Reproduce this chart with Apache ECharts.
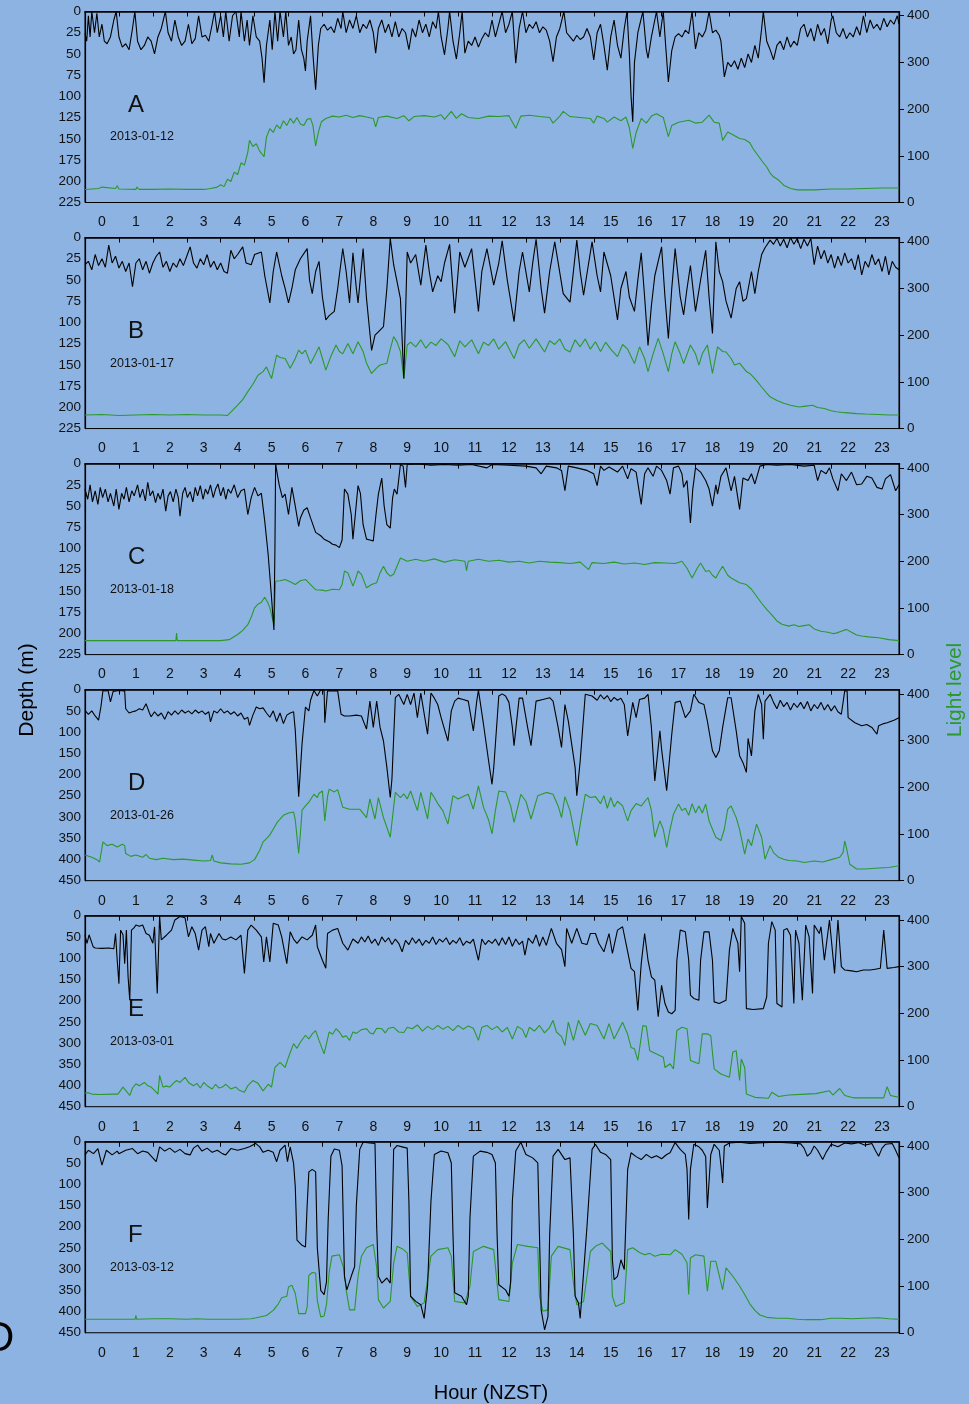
<!DOCTYPE html>
<html><head><meta charset="utf-8">
<script src="https://cdn.jsdelivr.net/npm/echarts@6/dist/echarts.min.js"></script>
<style>html,body{margin:0;padding:0;background:#8db3e2;}#c{width:969px;height:1404px;}</style>
</head><body><div id="c"></div>
<script>
// ---------- data: [hour, value] ----------
const hourLabels = ['0','1','2','3','4','5','6','7','8','9','10','11','12','13','14','15','16','17','18','19','20','21','22','23'];
const lightTicks = [0,100,200,300,400];
const panelLetters = ['A','B','C','D','E','F'];
const panelDates = ['2013-01-12','2013-01-17','2013-01-18','2013-01-26','2013-03-01','2013-03-12'];
const depthMax = [225,225,225,450,450,450];
const depthStep = [25,25,25,50,50,50];

const depthA = [[0,26],[0.05,35],[0.1,5],[0.15,30],[0.2,0],[0.28,25],[0.35,2],[0.42,30],[0.5,15],[0.57,35],[0.65,38],[0.75,30],[0.85,10],[0.92,0],[1.0,30],[1.1,42],[1.2,38],[1.3,45],[1.4,20],[1.47,0],[1.55,35],[1.65,45],[1.75,40],[1.85,30],[1.95,35],[2.05,50],[2.15,30],[2.25,20],[2.37,0],[2.45,25],[2.55,35],[2.65,10],[2.75,30],[2.85,40],[2.95,35],[3.05,15],[3.15,38],[3.25,32],[3.35,5],[3.45,30],[3.55,28],[3.65,35],[3.75,15],[3.82,0],[3.9,25],[4.0,5],[4.08,30],[4.15,0],[4.25,35],[4.35,5],[4.45,0],[4.55,30],[4.6,0],[4.7,35],[4.78,10],[4.85,40],[4.95,5],[5.05,30],[5.15,35],[5.22,55],[5.28,84],[5.35,40],[5.45,10],[5.52,45],[5.6,0],[5.68,35],[5.75,0],[5.85,30],[5.92,0],[6.0,40],[6.08,30],[6.15,50],[6.22,45],[6.3,10],[6.38,45],[6.45,55],[6.5,70],[6.55,35],[6.65,5],[6.72,50],[6.8,92],[6.88,40],[6.95,20],[7.05,15],[7.15,22],[7.25,18],[7.35,25],[7.45,8],[7.55,20],[7.6,0],[7.7,25],[7.8,10],[7.9,20],[8.0,5],[8.1,25],[8.2,15],[8.3,20],[8.4,10],[8.5,25],[8.57,49],[8.65,20],[8.75,10],[8.85,25],[8.95,15],[9.05,30],[9.15,12],[9.25,30],[9.35,20],[9.45,25],[9.55,45],[9.65,20],[9.75,30],[9.85,10],[9.95,25],[10.05,15],[10.15,30],[10.25,12],[10.35,20],[10.42,0],[10.5,30],[10.6,51],[10.7,20],[10.75,0],[10.85,35],[10.95,56],[11.05,25],[11.12,0],[11.2,49],[11.3,35],[11.4,40],[11.5,30],[11.6,42],[11.7,32],[11.8,25],[11.9,30],[12.0,10],[12.1,30],[12.2,15],[12.3,0],[12.4,25],[12.5,15],[12.6,0],[12.7,61],[12.8,20],[12.9,0],[13.0,25],[13.1,15],[13.2,20],[13.3,12],[13.4,25],[13.5,18],[13.6,22],[13.7,35],[13.8,59],[13.9,30],[14.0,20],[14.12,0],[14.2,25],[14.3,30],[14.4,35],[14.5,28],[14.6,33],[14.7,30],[14.8,20],[14.9,30],[15.0,57],[15.1,25],[15.2,15],[15.3,40],[15.4,69],[15.5,30],[15.6,10],[15.7,40],[15.8,55],[15.9,20],[15.98,0],[16.05,50],[16.1,100],[16.15,130],[16.2,60],[16.3,25],[16.45,0],[16.55,45],[16.6,55],[16.7,30],[16.85,0],[16.95,30],[17.05,0],[17.12,40],[17.2,83],[17.3,46],[17.4,30],[17.5,26],[17.6,30],[17.7,22],[17.8,26],[17.9,0],[18.0,44],[18.1,25],[18.2,30],[18.3,22],[18.4,0],[18.5,25],[18.6,22],[18.7,28],[18.75,35],[18.85,77],[18.95,60],[19.05,65],[19.15,58],[19.25,68],[19.35,55],[19.45,66],[19.55,50],[19.65,60],[19.75,40],[19.85,55],[19.95,20],[20.0,0],[20.1,35],[20.2,45],[20.3,57],[20.4,40],[20.5,35],[20.6,45],[20.7,30],[20.8,42],[20.9,35],[21.0,40],[21.1,20],[21.2,15],[21.3,30],[21.4,20],[21.5,35],[21.6,15],[21.7,28],[21.8,20],[21.9,38],[22.0,10],[22.05,5],[22.15,25],[22.25,30],[22.35,20],[22.45,32],[22.55,25],[22.65,30],[22.75,18],[22.85,28],[22.95,5],[23.05,25],[23.15,10],[23.25,20],[23.35,15],[23.45,22],[23.55,8],[23.65,18],[23.75,10],[23.85,15],[23.95,5],[24,15]];
const lightA = [[0,28],[0.4,30],[0.5,33],[0.9,30],[0.95,36],[1.0,29],[1.5,28],[1.53,33],[1.6,28],[2.0,28],[2.5,29],[3.0,28],[3.5,28],[3.7,30],[3.9,33],[4.0,38],[4.1,34],[4.2,50],[4.3,45],[4.4,65],[4.5,60],[4.6,85],[4.7,80],[4.8,108],[4.85,133],[4.95,120],[5.05,126],[5.15,110],[5.28,98],[5.35,140],[5.45,158],[5.55,150],[5.65,166],[5.75,158],[5.85,175],[5.95,165],[6.05,180],[6.15,170],[6.25,182],[6.35,168],[6.45,165],[6.55,178],[6.65,180],[6.72,165],[6.8,121],[6.88,150],[6.97,173],[7.1,180],[7.3,185],[7.5,183],[7.7,187],[7.9,182],[8.1,186],[8.3,183],[8.5,180],[8.57,162],[8.65,182],[8.9,185],[9.2,180],[9.4,186],[9.55,175],[9.7,184],[10.0,186],[10.3,183],[10.5,188],[10.6,178],[10.8,195],[10.95,180],[11.1,190],[11.3,182],[11.6,180],[11.9,185],[12.2,184],[12.5,186],[12.7,159],[12.85,185],[13.1,187],[13.4,184],[13.7,182],[13.8,170],[14.0,185],[14.1,195],[14.3,184],[14.6,182],[14.9,180],[15.0,170],[15.1,185],[15.3,180],[15.4,172],[15.6,183],[15.8,175],[15.95,183],[16.05,160],[16.15,116],[16.25,150],[16.4,180],[16.55,170],[16.7,185],[16.85,190],[17.05,182],[17.2,141],[17.3,165],[17.5,172],[17.8,176],[18.0,170],[18.2,172],[18.4,187],[18.55,172],[18.7,170],[18.8,133],[18.95,151],[19.1,145],[19.3,137],[19.45,135],[19.6,128],[19.7,115],[19.8,105],[19.95,90],[20.1,76],[20.2,63],[20.3,55],[20.45,48],[20.6,37],[20.8,30],[21.0,27],[21.5,27],[22.0,29],[22.5,29],[23.0,30],[23.5,31],[24.0,31]];

const depthB = [[0,32],[0.1,28],[0.2,38],[0.3,20],[0.4,33],[0.5,25],[0.6,35],[0.7,9],[0.8,30],[0.9,22],[1.0,36],[1.1,28],[1.2,40],[1.3,30],[1.4,58],[1.5,30],[1.6,25],[1.7,38],[1.8,28],[1.9,42],[2.0,30],[2.1,22],[2.2,17],[2.3,35],[2.4,28],[2.5,40],[2.6,30],[2.7,35],[2.8,25],[2.9,33],[3.0,22],[3.1,11],[3.2,30],[3.3,36],[3.4,25],[3.5,32],[3.6,20],[3.7,35],[3.8,28],[3.9,38],[4.0,30],[4.1,40],[4.2,42],[4.3,15],[4.4,25],[4.5,20],[4.65,11],[4.75,30],[4.9,32],[5.0,20],[5.2,17],[5.3,45],[5.45,77],[5.55,40],[5.65,17],[5.8,45],[5.9,60],[6.0,77],[6.1,60],[6.2,38],[6.35,25],[6.55,13],[6.62,50],[6.7,66],[6.8,40],[6.9,28],[7.0,70],[7.1,97],[7.2,92],[7.35,87],[7.45,60],[7.6,13],[7.7,40],[7.8,77],[7.9,18],[8.0,60],[8.05,77],[8.2,13],[8.3,72],[8.45,133],[8.55,115],[8.65,111],[8.8,105],[8.9,60],[9.0,1],[9.1,32],[9.3,72],[9.4,166],[9.5,17],[9.6,30],[9.75,20],[9.9,56],[10.05,9],[10.15,40],[10.25,64],[10.4,45],[10.5,52],[10.6,30],[10.75,8],[10.9,89],[11.05,17],[11.2,35],[11.4,13],[11.6,87],[11.7,40],[11.85,13],[12.05,56],[12.2,30],[12.3,4],[12.45,50],[12.65,99],[12.8,40],[12.9,17],[13.1,64],[13.2,30],[13.3,2],[13.45,60],[13.55,89],[13.7,40],[13.85,5],[14.1,66],[14.3,76],[14.4,40],[14.5,3],[14.6,40],[14.7,68],[14.85,30],[14.95,5],[15.1,45],[15.2,64],[15.3,17],[15.5,45],[15.7,97],[15.8,60],[15.95,40],[16.05,70],[16.2,87],[16.3,50],[16.4,18],[16.5,70],[16.6,127],[16.7,80],[16.8,45],[17.0,11],[17.1,70],[17.2,119],[17.3,60],[17.4,13],[17.55,70],[17.65,91],[17.75,60],[17.85,33],[18.0,87],[18.15,50],[18.3,15],[18.4,70],[18.5,113],[18.6,5],[18.7,40],[18.8,52],[18.9,75],[19.05,95],[19.2,60],[19.3,52],[19.4,75],[19.5,72],[19.65,40],[19.75,66],[19.85,40],[19.95,20],[20.05,12],[20.2,3],[20.3,8],[20.4,1],[20.5,10],[20.6,2],[20.7,12],[20.8,0],[20.9,8],[21.0,1],[21.1,13],[21.2,2],[21.3,10],[21.4,1],[21.5,32],[21.6,10],[21.7,25],[21.8,15],[21.9,30],[22.0,20],[22.1,36],[22.2,22],[22.3,33],[22.4,18],[22.5,30],[22.6,25],[22.7,38],[22.8,20],[22.9,44],[23.0,28],[23.1,35],[23.2,20],[23.3,32],[23.4,25],[23.5,40],[23.6,22],[23.7,44],[23.8,28],[23.9,35],[24,38]];
const lightB = [[0,29],[0.5,30],[1,28],[1.5,29],[2,30],[2.5,29],[3,30],[3.5,29],[4,29],[4.2,28],[4.3,35],[4.5,50],[4.65,62],[4.8,79],[4.95,95],[5.1,114],[5.25,122],[5.35,132],[5.5,107],[5.65,157],[5.75,152],[5.9,150],[6.05,129],[6.2,150],[6.3,168],[6.4,160],[6.5,168],[6.65,139],[6.8,160],[6.9,175],[7.0,150],[7.1,125],[7.25,155],[7.4,179],[7.5,165],[7.6,160],[7.75,182],[7.9,160],[8.05,186],[8.2,165],[8.3,140],[8.45,118],[8.6,130],[8.7,136],[8.9,140],[9.0,170],[9.1,197],[9.2,185],[9.3,165],[9.4,107],[9.5,179],[9.6,185],[9.75,175],[9.9,190],[10.05,172],[10.2,185],[10.35,178],[10.5,192],[10.7,180],[10.9,154],[11.05,188],[11.2,175],[11.4,190],[11.6,160],[11.75,185],[11.9,178],[12.05,192],[12.2,170],[12.4,186],[12.65,150],[12.8,180],[12.95,190],[13.1,172],[13.3,192],[13.55,164],[13.7,188],[13.85,180],[14.0,192],[14.15,170],[14.3,164],[14.45,190],[14.6,175],[14.75,192],[14.9,170],[15.05,186],[15.2,165],[15.35,185],[15.5,170],[15.7,154],[15.85,180],[16.0,170],[16.2,139],[16.35,175],[16.5,150],[16.6,122],[16.75,160],[16.9,193],[17.05,160],[17.2,122],[17.3,160],[17.4,186],[17.55,160],[17.65,139],[17.85,179],[18.0,160],[18.1,136],[18.2,160],[18.35,179],[18.5,118],[18.65,175],[18.8,165],[18.9,164],[19.05,150],[19.15,136],[19.3,140],[19.5,122],[19.6,118],[19.75,107],[19.95,89],[20.1,76],[20.2,68],[20.4,60],[20.6,54],[20.8,50],[21.05,46],[21.25,48],[21.45,50],[21.6,45],[21.8,43],[22.0,38],[22.15,36],[22.4,34],[22.75,32],[23.0,31],[23.4,30],[23.7,29],[24,29]];

const depthC = [[0,30],[0.08,42],[0.15,25],[0.22,45],[0.3,32],[0.38,48],[0.45,28],[0.52,40],[0.6,30],[0.68,45],[0.75,35],[0.85,50],[0.92,30],[1.0,54],[1.08,35],[1.15,42],[1.22,28],[1.3,45],[1.38,32],[1.45,38],[1.55,25],[1.62,40],[1.7,30],[1.78,44],[1.85,22],[1.92,38],[2.0,32],[2.08,46],[2.15,35],[2.22,42],[2.3,30],[2.38,56],[2.45,38],[2.52,33],[2.6,45],[2.68,30],[2.75,40],[2.8,62],[2.88,35],[2.95,28],[3.02,40],[3.1,33],[3.18,45],[3.25,28],[3.32,38],[3.4,26],[3.48,42],[3.55,30],[3.62,36],[3.7,25],[3.78,40],[3.85,30],[3.92,24],[4.0,38],[4.08,28],[4.15,42],[4.22,30],[4.3,35],[4.4,25],[4.5,40],[4.6,32],[4.7,30],[4.8,60],[4.9,40],[5.0,28],[5.1,38],[5.2,35],[5.3,68],[5.4,107],[5.5,158],[5.57,196],[5.6,100],[5.62,0],[5.68,15],[5.73,26],[5.82,40],[5.9,36],[6.0,60],[6.1,28],[6.2,50],[6.3,74],[6.35,64],[6.45,55],[6.55,52],[6.65,64],[6.8,81],[6.95,85],[7.05,89],[7.2,92],[7.3,95],[7.4,96],[7.5,99],[7.58,90],[7.65,30],[7.75,36],[7.85,60],[7.9,89],[7.97,60],[8.05,26],[8.12,35],[8.2,72],[8.3,89],[8.4,90],[8.5,91],[8.58,60],[8.65,36],[8.75,17],[8.82,50],[8.9,72],[9.0,76],[9.07,40],[9.12,30],[9.2,36],[9.3,1],[9.38,3],[9.45,28],[9.5,1],[9.8,0],[10.2,2],[10.6,1],[11.0,2],[11.4,1],[11.85,5],[12.0,1],[12.5,2],[13.0,3],[13.3,5],[13.45,12],[13.6,3],[13.9,5],[14.05,8],[14.15,32],[14.25,3],[14.5,5],[14.8,8],[15.0,12],[15.1,26],[15.2,3],[15.3,8],[15.45,4],[15.7,10],[15.85,3],[16.0,18],[16.1,6],[16.25,10],[16.4,48],[16.5,12],[16.6,5],[16.75,15],[16.85,3],[17.0,8],[17.15,20],[17.25,36],[17.35,5],[17.5,3],[17.6,12],[17.65,28],[17.75,20],[17.85,70],[17.92,30],[18.0,5],[18.15,10],[18.3,20],[18.4,30],[18.5,50],[18.6,25],[18.65,36],[18.75,15],[18.9,5],[19.05,32],[19.15,15],[19.3,54],[19.4,17],[19.55,20],[19.65,12],[19.75,24],[19.9,3],[20.1,1],[20.4,2],[20.8,1],[21.2,3],[21.5,2],[21.6,20],[21.7,8],[21.85,12],[21.95,5],[22.05,18],[22.2,32],[22.3,12],[22.45,20],[22.6,10],[22.75,25],[22.9,24],[23.05,15],[23.2,17],[23.35,28],[23.5,30],[23.6,18],[23.75,13],[23.9,32],[24,25]];
const lightC = [[0,30],[0.5,30],[1,30],[1.5,30],[2,30],[2.68,30],[2.7,46],[2.72,30],[3,30],[3.5,30],[4.0,30],[4.25,32],[4.5,43],[4.65,52],[4.8,64],[4.9,80],[5.0,100],[5.1,108],[5.2,112],[5.3,123],[5.4,110],[5.45,100],[5.55,70],[5.57,64],[5.62,157],[5.75,158],[5.9,161],[6.05,156],[6.2,150],[6.35,158],[6.5,161],[6.65,150],[6.8,139],[7.0,138],[7.1,136],[7.3,140],[7.5,139],[7.58,150],[7.65,179],[7.75,175],[7.9,147],[7.97,160],[8.05,179],[8.15,172],[8.3,143],[8.45,150],[8.6,154],[8.7,175],[8.8,189],[8.9,175],[9.0,168],[9.1,172],[9.3,207],[9.5,200],[9.75,204],[10.0,200],[10.3,205],[10.6,198],[10.9,203],[11.2,200],[11.25,180],[11.3,200],[11.6,204],[11.9,200],[12.2,202],[12.5,198],[12.8,200],[13.1,196],[13.4,200],[13.7,198],[14.0,197],[14.3,195],[14.6,198],[14.85,182],[14.95,197],[15.3,195],[15.6,198],[15.9,194],[16.2,196],[16.5,193],[16.8,197],[17.1,196],[17.4,195],[17.6,200],[17.75,185],[17.9,164],[18.05,185],[18.15,196],[18.3,178],[18.4,180],[18.5,170],[18.6,164],[18.7,178],[18.8,189],[18.95,170],[19.05,164],[19.3,154],[19.5,150],[19.65,140],[19.8,125],[19.95,110],[20.1,97],[20.25,85],[20.4,72],[20.55,65],[20.75,61],[20.9,64],[21.05,60],[21.2,62],[21.35,64],[21.5,55],[21.7,50],[21.9,48],[22.05,45],[22.15,46],[22.3,50],[22.45,54],[22.6,48],[22.75,42],[22.9,40],[23.1,38],[23.4,36],[23.7,32],[24,30]];

const depthD = [[0,49],[0.1,58],[0.2,50],[0.3,62],[0.4,72],[0.47,40],[0.53,2],[0.6,3],[0.68,2],[0.75,29],[0.83,4],[1.0,2],[1.17,3],[1.2,45],[1.3,55],[1.4,52],[1.5,50],[1.6,45],[1.7,48],[1.8,33],[1.9,55],[1.95,64],[2.05,52],[2.15,62],[2.25,55],[2.35,70],[2.45,52],[2.55,60],[2.65,50],[2.75,58],[2.85,48],[2.95,55],[3.05,50],[3.15,57],[3.25,48],[3.35,55],[3.45,50],[3.55,58],[3.65,52],[3.7,76],[3.8,50],[3.9,55],[4.0,45],[4.1,55],[4.2,50],[4.3,58],[4.4,52],[4.5,62],[4.6,55],[4.7,70],[4.8,65],[4.85,84],[4.95,60],[5.05,41],[5.15,45],[5.25,43],[5.35,55],[5.45,65],[5.55,50],[5.65,75],[5.75,55],[5.85,80],[5.95,60],[6.05,55],[6.15,52],[6.2,96],[6.3,252],[6.4,127],[6.5,41],[6.6,50],[6.65,25],[6.75,2],[6.85,15],[6.95,0],[7.05,3],[7.07,78],[7.15,3],[7.45,3],[7.55,58],[7.65,62],[7.8,62],[8.0,60],[8.15,62],[8.3,93],[8.4,27],[8.5,89],[8.6,27],[8.7,89],[8.8,121],[8.9,183],[9.0,254],[9.05,210],[9.15,19],[9.25,11],[9.4,35],[9.5,11],[9.6,35],[9.7,8],[9.8,66],[9.9,8],[10.1,105],[10.2,8],[10.3,20],[10.4,35],[10.5,66],[10.7,121],[10.8,50],[10.9,27],[11.0,20],[11.15,23],[11.3,27],[11.45,97],[11.55,27],[11.6,1],[11.75,82],[11.9,168],[12.0,223],[12.05,185],[12.2,15],[12.3,10],[12.4,15],[12.5,30],[12.6,89],[12.65,132],[12.8,20],[12.9,20],[13.05,89],[13.15,132],[13.3,27],[13.5,23],[13.7,19],[13.8,27],[13.95,89],[14.05,136],[14.15,35],[14.25,74],[14.45,183],[14.5,250],[14.6,168],[14.75,11],[14.95,15],[15.1,25],[15.2,12],[15.3,22],[15.4,14],[15.5,28],[15.6,18],[15.7,25],[15.8,20],[15.9,35],[16.0,109],[16.15,30],[16.25,66],[16.35,23],[16.5,20],[16.6,11],[16.7,89],[16.8,215],[16.95,97],[17.0,140],[17.15,238],[17.3,105],[17.4,30],[17.55,27],[17.7,66],[17.85,50],[17.95,11],[18.1,30],[18.25,35],[18.35,74],[18.5,144],[18.6,160],[18.7,144],[18.8,89],[18.95,19],[19.05,19],[19.2,97],[19.3,156],[19.4,172],[19.5,195],[19.55,115],[19.65,156],[19.75,50],[19.85,11],[19.95,35],[20.0,117],[20.05,27],[20.2,11],[20.3,30],[20.4,45],[20.5,25],[20.6,40],[20.7,30],[20.8,48],[20.9,32],[21.0,42],[21.1,30],[21.2,45],[21.3,28],[21.4,50],[21.5,35],[21.6,45],[21.7,30],[21.8,48],[21.9,35],[22.0,50],[22.1,38],[22.2,52],[22.3,58],[22.4,3],[22.47,3],[22.5,66],[22.7,78],[22.9,85],[23.05,82],[23.2,89],[23.35,105],[23.4,85],[23.55,80],[23.65,78],[23.85,72],[24,66]];
const lightD = [[0,55],[0.2,50],[0.35,45],[0.43,40],[0.5,70],[0.53,83],[0.65,75],[0.8,78],[0.95,72],[1.1,78],[1.17,75],[1.2,58],[1.35,52],[1.5,55],[1.7,50],[1.8,56],[1.9,48],[2.1,45],[2.3,48],[2.6,45],[2.9,46],[3.2,44],[3.5,42],[3.7,43],[3.75,55],[3.8,42],[4.0,38],[4.3,36],[4.6,35],[4.85,38],[5.0,45],[5.15,65],[5.25,83],[5.35,90],[5.45,98],[5.55,110],[5.65,123],[5.75,132],[5.85,140],[6.0,145],[6.15,147],[6.2,130],[6.3,58],[6.35,100],[6.4,151],[6.5,160],[6.6,168],[6.65,172],[6.75,185],[6.85,178],[6.9,187],[7.0,192],[7.07,128],[7.15,180],[7.2,196],[7.35,190],[7.45,195],[7.6,157],[7.8,153],[8.1,153],[8.3,135],[8.4,175],[8.55,132],[8.65,178],[8.8,135],[9.0,93],[9.15,189],[9.3,178],[9.4,186],[9.5,175],[9.6,192],[9.8,150],[9.9,189],[10.1,132],[10.2,189],[10.3,178],[10.4,165],[10.55,150],[10.7,121],[10.85,182],[11.0,175],[11.15,180],[11.3,185],[11.45,153],[11.6,203],[11.75,157],[11.9,130],[12.0,100],[12.1,150],[12.2,192],[12.4,190],[12.55,160],[12.65,125],[12.85,185],[13.0,170],[13.15,132],[13.35,182],[13.6,189],[13.8,185],[13.95,160],[14.05,135],[14.15,180],[14.3,150],[14.5,75],[14.6,120],[14.75,185],[14.9,178],[15.05,180],[15.2,165],[15.3,182],[15.4,155],[15.5,178],[15.6,158],[15.7,170],[15.85,160],[16.0,128],[16.1,150],[16.25,165],[16.4,160],[16.6,178],[16.7,150],[16.8,93],[16.95,128],[17.05,110],[17.15,71],[17.25,110],[17.35,142],[17.5,164],[17.6,150],[17.7,155],[17.8,140],[17.9,165],[18.0,145],[18.1,160],[18.2,145],[18.3,164],[18.4,128],[18.5,110],[18.6,93],[18.75,86],[18.85,110],[18.95,153],[19.05,160],[19.2,135],[19.3,110],[19.45,57],[19.55,89],[19.65,75],[19.8,121],[19.95,93],[20.05,46],[20.2,75],[20.3,60],[20.45,50],[20.6,46],[20.75,43],[21.0,42],[21.2,39],[21.5,42],[21.75,40],[22.0,45],[22.25,50],[22.35,60],[22.4,85],[22.45,70],[22.55,35],[22.75,25],[23.0,25],[23.4,27],[23.7,28],[24,32]];

const depthE = [[0,46],[0.06,65],[0.12,45],[0.24,73],[0.3,76],[0.5,77],[0.7,76],[0.85,78],[0.9,42],[0.95,105],[1.0,160],[1.05,34],[1.12,45],[1.17,113],[1.22,34],[1.27,144],[1.32,199],[1.37,34],[1.45,28],[1.5,22],[1.6,25],[1.7,22],[1.8,42],[1.9,46],[2.0,65],[2.05,26],[2.13,183],[2.2,1],[2.25,57],[2.4,46],[2.55,34],[2.65,10],[2.8,2],[2.95,5],[3.05,50],[3.15,26],[3.25,42],[3.35,81],[3.45,34],[3.55,26],[3.65,73],[3.7,42],[3.8,65],[3.95,42],[4.05,55],[4.15,57],[4.3,50],[4.45,57],[4.6,46],[4.7,136],[4.8,34],[4.9,22],[5.05,34],[5.2,50],[5.27,109],[5.35,50],[5.45,109],[5.55,18],[5.7,22],[5.8,50],[5.95,113],[6.05,38],[6.15,55],[6.25,65],[6.4,50],[6.55,57],[6.7,46],[6.8,22],[6.85,73],[7.0,105],[7.1,124],[7.15,42],[7.3,34],[7.45,30],[7.6,65],[7.75,81],[7.9,55],[8.05,65],[8.15,50],[8.25,62],[8.35,48],[8.45,65],[8.55,55],[8.65,70],[8.75,50],[8.85,62],[8.95,52],[9.05,68],[9.15,55],[9.25,65],[9.35,85],[9.45,58],[9.55,68],[9.65,52],[9.75,65],[9.85,55],[9.95,70],[10.05,58],[10.15,65],[10.25,50],[10.35,68],[10.45,55],[10.55,62],[10.65,52],[10.75,68],[10.85,58],[10.95,65],[11.05,52],[11.15,70],[11.25,60],[11.35,65],[11.45,55],[11.6,105],[11.7,55],[11.8,68],[11.9,58],[12.0,65],[12.1,55],[12.2,70],[12.3,52],[12.4,68],[12.5,50],[12.6,72],[12.7,55],[12.8,68],[12.9,60],[12.97,93],[13.07,53],[13.2,65],[13.3,45],[13.4,72],[13.5,50],[13.6,70],[13.75,30],[13.9,65],[14.05,80],[14.15,120],[14.2,30],[14.35,65],[14.5,30],[14.65,65],[14.8,68],[14.9,42],[15.05,42],[15.15,65],[15.3,85],[15.45,42],[15.55,89],[15.7,34],[15.85,26],[15.95,65],[16.1,124],[16.2,132],[16.3,223],[16.4,113],[16.5,42],[16.6,105],[16.7,144],[16.8,152],[16.9,238],[17.0,164],[17.1,207],[17.2,227],[17.3,231],[17.4,223],[17.45,105],[17.55,34],[17.7,38],[17.8,105],[17.85,187],[17.95,195],[18.1,199],[18.15,105],[18.25,38],[18.4,38],[18.5,105],[18.55,203],[18.7,207],[18.9,199],[19.0,81],[19.1,30],[19.25,65],[19.3,132],[19.35,2],[19.45,18],[19.5,219],[19.7,221],[20.0,219],[20.1,191],[20.15,65],[20.25,14],[20.35,34],[20.4,207],[20.55,215],[20.6,34],[20.7,30],[20.8,46],[20.9,207],[20.95,34],[21.05,65],[21.15,199],[21.25,22],[21.35,50],[21.45,183],[21.5,22],[21.65,42],[21.7,26],[21.8,105],[21.95,10],[22.1,136],[22.2,10],[22.3,120],[22.4,128],[22.6,130],[22.75,132],[22.95,128],[23.15,128],[23.3,126],[23.45,124],[23.55,34],[23.65,124],[23.85,122],[24,120]];
const lightE = [[0,29],[0.1,30],[0.2,27],[0.4,26],[0.83,27],[0.97,27],[1.05,35],[1.12,42],[1.2,35],[1.32,24],[1.4,40],[1.5,49],[1.6,45],[1.75,52],[1.85,45],[1.95,42],[2.05,35],[2.15,27],[2.2,67],[2.3,42],[2.4,44],[2.5,42],[2.6,50],[2.7,56],[2.8,52],[2.95,63],[3.05,52],[3.2,45],[3.3,50],[3.4,40],[3.5,52],[3.6,45],[3.75,38],[3.85,48],[3.95,40],[4.05,42],[4.15,48],[4.3,38],[4.45,42],[4.55,35],[4.7,31],[4.8,45],[4.95,56],[5.1,50],[5.25,34],[5.4,48],[5.5,42],[5.6,84],[5.75,95],[5.9,84],[6.0,106],[6.15,135],[6.25,125],[6.35,138],[6.5,153],[6.6,145],[6.7,156],[6.8,163],[6.9,142],[7.05,113],[7.2,160],[7.3,155],[7.4,167],[7.5,160],[7.6,149],[7.7,152],[7.8,142],[7.9,160],[8.0,157],[8.15,165],[8.3,167],[8.4,158],[8.5,156],[8.6,168],[8.75,167],[8.85,158],[8.95,168],[9.1,170],[9.25,160],[9.4,159],[9.5,170],[9.65,167],[9.8,175],[9.95,162],[10.1,172],[10.25,165],[10.4,174],[10.55,166],[10.7,172],[10.85,163],[11.0,174],[11.15,166],[11.3,173],[11.45,168],[11.6,142],[11.7,170],[11.85,174],[12.0,165],[12.15,172],[12.3,160],[12.45,170],[12.6,145],[12.75,172],[12.9,165],[13.0,148],[13.1,170],[13.25,162],[13.4,174],[13.55,158],[13.7,170],[13.8,185],[13.9,160],[14.05,150],[14.15,131],[14.25,181],[14.4,142],[14.55,185],[14.75,153],[14.9,178],[15.1,174],[15.3,145],[15.45,178],[15.6,145],[15.85,181],[16.0,155],[16.1,127],[16.2,124],[16.3,99],[16.45,174],[16.55,172],[16.65,120],[16.85,113],[17.05,106],[17.1,84],[17.25,92],[17.35,81],[17.45,163],[17.6,170],[17.75,167],[17.85,99],[18.1,92],[18.2,156],[18.35,156],[18.45,152],[18.55,81],[18.75,70],[19.0,63],[19.1,117],[19.2,120],[19.3,56],[19.35,102],[19.45,84],[19.5,27],[19.75,20],[20.15,18],[20.25,31],[20.45,22],[20.75,25],[21.25,27],[21.55,28],[21.95,34],[22.05,25],[22.25,39],[22.4,24],[22.65,19],[23.1,19],[23.55,19],[23.65,43],[23.75,24],[24,20]];

const depthF = [[0,31],[0.1,20],[0.25,28],[0.38,16],[0.5,55],[0.63,20],[0.8,31],[0.95,22],[1.0,28],[1.2,20],[1.4,16],[1.55,28],[1.7,22],[1.85,25],[2.1,47],[2.2,12],[2.35,22],[2.5,15],[2.65,25],[2.8,18],[2.95,28],[3.1,31],[3.2,15],[3.32,8],[3.45,22],[3.6,15],[3.75,25],[3.9,20],[4.05,28],[4.15,31],[4.3,16],[4.5,20],[4.7,16],[4.85,12],[5.03,4],[5.15,12],[5.25,25],[5.4,20],[5.55,25],[5.65,47],[5.75,20],[5.9,8],[5.97,47],[6.05,12],[6.15,51],[6.2,106],[6.25,232],[6.4,244],[6.5,248],[6.55,150],[6.6,71],[6.7,65],[6.8,71],[6.85,250],[6.95,350],[7.05,360],[7.12,330],[7.17,183],[7.25,34],[7.35,17],[7.5,20],[7.58,57],[7.65,317],[7.72,349],[7.85,317],[7.95,294],[8.0,150],[8.1,18],[8.2,1],[8.4,3],[8.55,4],[8.6,200],[8.65,317],[8.75,333],[8.9,321],[9.0,333],[9.05,200],[9.1,18],[9.2,9],[9.35,12],[9.5,15],[9.55,140],[9.6,364],[9.75,376],[9.9,384],[10.0,416],[10.1,340],[10.2,140],[10.3,30],[10.5,22],[10.7,26],[10.8,50],[10.85,220],[10.9,356],[11.1,364],[11.25,384],[11.3,364],[11.35,180],[11.45,34],[11.65,22],[11.85,25],[12.0,30],[12.1,50],[12.15,220],[12.2,337],[12.4,349],[12.5,364],[12.55,330],[12.6,140],[12.7,22],[12.85,1],[13.0,30],[13.2,38],[13.35,50],[13.4,220],[13.45,396],[13.55,443],[13.65,412],[13.7,220],[13.8,34],[13.95,18],[14.15,42],[14.3,38],[14.4,220],[14.45,364],[14.55,380],[14.6,416],[14.7,309],[14.8,200],[14.95,18],[15.05,6],[15.2,25],[15.35,30],[15.5,42],[15.55,278],[15.6,325],[15.7,317],[15.8,278],[15.9,301],[16.0,65],[16.1,26],[16.25,35],[16.4,42],[16.55,30],[16.7,38],[16.85,33],[17.0,40],[17.15,30],[17.25,26],[17.4,2],[17.55,18],[17.7,30],[17.75,65],[17.8,183],[17.85,65],[17.95,6],[18.1,12],[18.2,20],[18.3,35],[18.35,156],[18.45,30],[18.55,6],[18.7,20],[18.75,55],[18.8,97],[18.85,10],[19.0,3],[19.3,1],[19.6,4],[20.0,2],[20.4,1],[20.8,3],[21.1,5],[21.2,15],[21.3,34],[21.4,26],[21.5,10],[21.6,20],[21.75,42],[21.85,25],[22.0,6],[22.2,12],[22.4,3],[22.6,5],[22.8,2],[23.0,8],[23.2,4],[23.3,20],[23.4,34],[23.5,15],[23.6,6],[23.8,4],[23.9,20],[24,38]];
const lightF = [[0,29],[0.5,29],[1.0,29],[1.48,29],[1.5,37],[1.52,29],[2.0,30],[2.5,30],[3.0,29],[3.3,30],[3.6,29],[4.0,29],[4.5,29],[4.9,30],[5.05,32],[5.35,37],[5.55,48],[5.7,62],[5.8,75],[5.85,77],[5.95,78],[6.0,98],[6.1,102],[6.2,84],[6.3,41],[6.5,41],[6.55,55],[6.6,123],[6.7,129],[6.8,128],[6.85,69],[6.95,34],[7.05,36],[7.12,60],[7.2,130],[7.28,164],[7.5,167],[7.62,140],[7.7,92],[7.8,49],[7.95,49],[8.05,121],[8.15,164],[8.3,182],[8.5,189],[8.6,140],[8.65,71],[8.8,53],[9.0,67],[9.1,149],[9.2,185],[9.35,180],[9.5,171],[9.6,78],[9.8,56],[10.0,64],[10.2,164],[10.4,178],[10.7,182],[10.8,164],[10.9,67],[11.2,64],[11.35,100],[11.45,174],[11.75,185],[12.05,178],[12.2,71],[12.5,67],[12.6,149],[12.75,189],[13.05,185],[13.35,182],[13.4,78],[13.5,46],[13.65,49],[13.75,164],[13.95,185],[14.3,178],[14.4,107],[14.5,60],[14.7,67],[14.9,174],[15.05,185],[15.25,192],[15.5,174],[15.55,78],[15.65,56],[15.9,64],[16.0,178],[16.15,182],[16.35,172],[16.5,167],[16.65,170],[16.8,164],[17.0,168],[17.25,167],[17.4,178],[17.6,168],[17.75,150],[17.8,82],[17.85,160],[18.0,167],[18.25,164],[18.35,89],[18.45,153],[18.6,153],[18.8,92],[18.9,139],[19.1,121],[19.3,100],[19.45,82],[19.6,62],[19.75,48],[19.9,38],[20.1,33],[20.4,31],[20.7,31],[21.0,29],[21.25,28],[21.7,28],[22.0,31],[22.3,31],[22.6,30],[22.95,31],[23.4,32],[23.7,30],[24,29]];

const depthSets = [depthA, depthB, depthC, depthD, depthE, depthF];
const lightSets = [lightA, lightB, lightC, lightD, lightE, lightF];

// ---------- chart ----------
const FONT = 'Liberation Sans, Arial, sans-serif';
const GREEN = '#2b992b';
const TOP0 = 11.5, STEP = 226.05, H = 191, LEFT = 85, RIGHT = 70;
const hourTicks = Array.from({length:25}, (_, i) => i);
const labelPos = hourLabels.map((_, i) => i + 0.5);

const grids = [], xAxes = [], yAxes = [], series = [], graphics = [];
for (let i = 0; i < 6; i++) {
  const top = TOP0 + STEP * i;
  grids.push({left: LEFT, right: RIGHT, top: top, height: H, show: true, borderColor: '#000', borderWidth: 1, backgroundColor: 'transparent', containLabel: false});
  xAxes.push({
    type: 'value', gridIndex: i, min: 0, max: 24,
    axisLine: {show: true, lineStyle: {color: '#000', width: 1.6}},
    axisTick: {show: true, customValues: hourTicks, length: 5, lineStyle: {color: '#000', width: 1}},
    axisLabel: {customValues: labelPos, formatter: v => hourLabels[Math.floor(v)], fontSize: 14, color: '#111', fontFamily: FONT, margin: 13},
    splitLine: {show: false}
  });
  yAxes.push({
    type: 'value', gridIndex: i, position: 'left', inverse: true, min: 0, max: depthMax[i], interval: depthStep[i],
    axisLine: {show: true, lineStyle: {color: '#000', width: 1.2}},
    axisTick: {show: false},
    axisLabel: {fontSize: 13.5, color: '#111', fontFamily: FONT, margin: 4, padding: [3, 0, 0, 0]},
    splitLine: {show: false}
  });
  yAxes.push({
    type: 'value', gridIndex: i, position: 'right', min: 0, max: 409,
    axisLine: {show: true, lineStyle: {color: '#000', width: 1.2}},
    axisTick: {show: true, customValues: lightTicks, length: 5, lineStyle: {color: '#000'}},
    axisLabel: {customValues: lightTicks, fontSize: 13.5, color: '#111', fontFamily: FONT, margin: 8},
    splitLine: {show: false}
  });
  series.push({type: 'line', xAxisIndex: i, yAxisIndex: 2*i+1, data: lightSets[i], showSymbol: false, symbol: 'none', lineStyle: {color: GREEN, width: 1.1}, silent: true, z: 2});
  series.push({type: 'line', xAxisIndex: i, yAxisIndex: 2*i, data: depthSets[i], showSymbol: false, symbol: 'none', lineStyle: {color: '#000', width: 1.1}, silent: true, z: 3});
  graphics.push({type: 'text', left: 128, top: top + 82, style: {text: panelLetters[i], fontSize: 24, fill: '#111', fontFamily: FONT}});
  graphics.push({type: 'text', left: 110, top: top + 119, style: {text: panelDates[i], fontSize: 12.5, fill: '#111', fontFamily: FONT}});
}
graphics.push({type: 'text', x: 27, y: 690, rotation: Math.PI/2, style: {text: 'Depth (m)', fontSize: 21, fill: '#000', fontFamily: FONT, align: 'center', verticalAlign: 'middle'}});
graphics.push({type: 'text', x: 955, y: 690, rotation: Math.PI/2, style: {text: 'Light level', fontSize: 21, fill: GREEN, fontFamily: FONT, align: 'center', verticalAlign: 'middle'}});
graphics.push({type: 'text', x: 491, y: 1393, style: {text: 'Hour (NZST)', fontSize: 20, fill: '#000', fontFamily: FONT, align: 'center', verticalAlign: 'middle'}});
graphics.push({type: 'text', x: -16, y: 1339, style: {text: 'D', fontSize: 42, fill: '#000', fontFamily: FONT, align: 'left', verticalAlign: 'middle'}});

const chart = echarts.init(document.getElementById('c'), null, {renderer: 'canvas', width: 969, height: 1404});
chart.setOption({
  backgroundColor: '#8db3e2',
  animation: false,
  grid: grids, xAxis: xAxes, yAxis: yAxes, series: series, graphic: graphics
});
</script>
</body></html>
